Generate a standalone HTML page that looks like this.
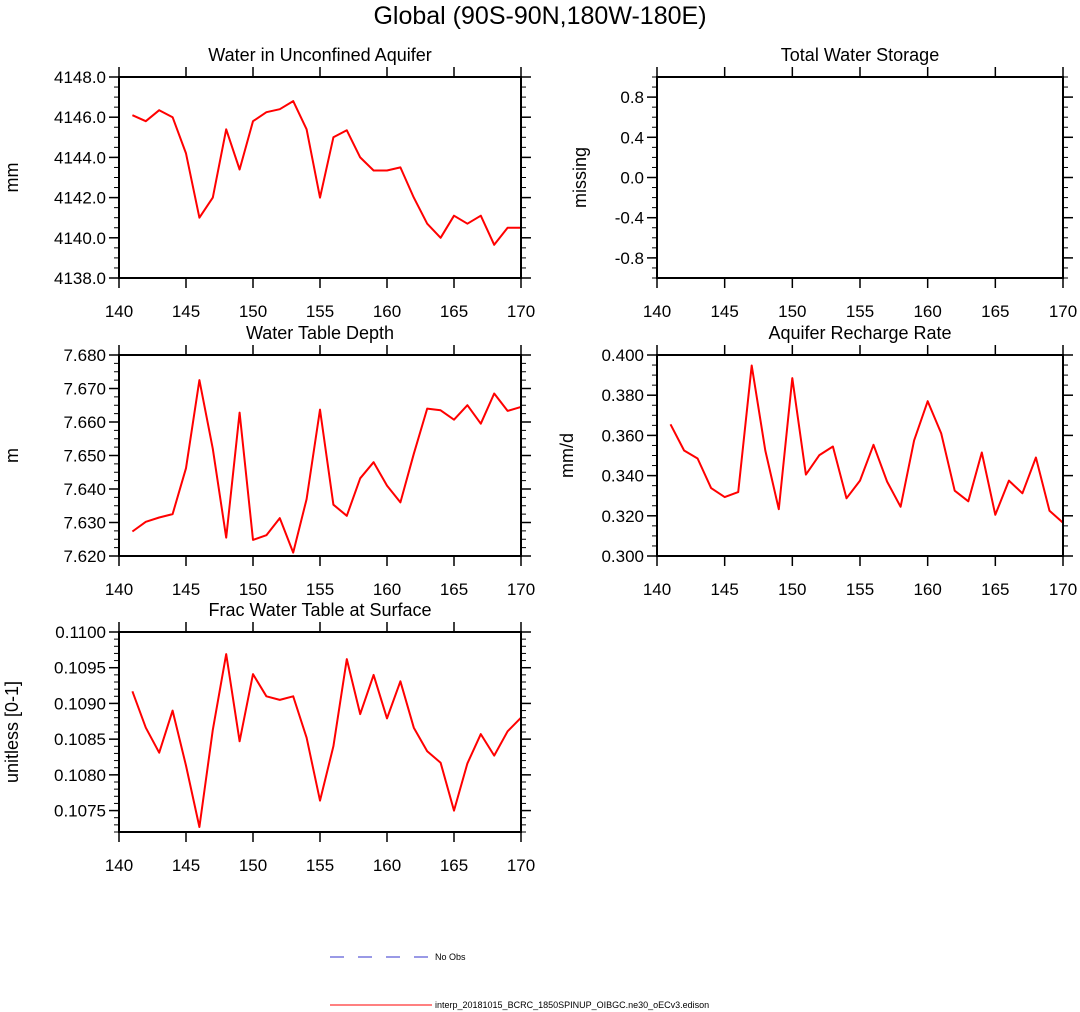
<!DOCTYPE html>
<html><head><meta charset="utf-8"><style>
body{margin:0;background:#fff;}
svg{display:block;font-family:"Liberation Sans",Arial,sans-serif;}
</style></head><body>
<svg id="chart" width="1080" height="1012" viewBox="0 0 1080 1012" xmlns="http://www.w3.org/2000/svg">
<text x="540" y="24" font-size="25" text-anchor="middle">Global (90S-90N,180W-180E)</text>
<g>
<line x1="330" y1="957" x2="432" y2="957" stroke="#3333cc" stroke-width="1" stroke-dasharray="14,14"/>
<text x="435" y="960" font-size="9">No Obs</text>
<line x1="330" y1="1005" x2="432" y2="1005" stroke="red" stroke-width="1"/>
<text x="435" y="1008" font-size="9">interp_20181015_BCRC_1850SPINUP_OIBGC.ne30_oECv3.edison</text>
</g>
</svg>
<script>
const years = [141,142,143,144,145,146,147,148,149,150,151,152,153,154,155,156,157,158,159,160,161,162,163,164,165,166,167,168,169,170];
const xTicks = [140,145,150,155,160,165,170];
const aquiferValues = [4146.1,4145.8,4146.35,4146.0,4144.2,4141.0,4142.0,4145.4,4143.4,4145.8,4146.25,4146.4,4146.8,4145.4,4142.0,4145.0,4145.35,4144.0,4143.35,4143.35,4143.5,4142.0,4140.7,4140.0,4141.1,4140.7,4141.1,4139.65,4140.5,4140.5];
const aquiferTicks = [4138,4140,4142,4144,4146,4148];
const storageValues = [];
const storageTicks = [-0.8,-0.4,0.0,0.4,0.8];
const wtdValues = [7.6273,7.6302,7.6315,7.6325,7.6462,7.6725,7.6520,7.6255,7.6628,7.6248,7.6262,7.6313,7.6210,7.6370,7.6637,7.6353,7.6320,7.6432,7.6480,7.6410,7.6360,7.6505,7.6640,7.6635,7.6607,7.6650,7.6595,7.6685,7.6633,7.6645];
const wtdTicks = [7.620,7.630,7.640,7.650,7.660,7.670,7.680];
const rechargeValues = [0.3655,0.3525,0.3485,0.3338,0.3293,0.3318,0.3948,0.3525,0.3233,0.3885,0.3405,0.3502,0.3545,0.3287,0.3375,0.3553,0.3370,0.3245,0.3575,0.3770,0.3610,0.3325,0.3272,0.3515,0.3205,0.3375,0.3312,0.3490,0.3225,0.3165];
const rechargeTicks = [0.300,0.320,0.340,0.360,0.380,0.400];
const fracValues = [0.10917,0.10866,0.10831,0.10890,0.10813,0.10727,0.10863,0.10969,0.10847,0.10941,0.10910,0.10905,0.10910,0.10852,0.10764,0.10840,0.10962,0.10885,0.10940,0.10879,0.10931,0.10866,0.10833,0.10817,0.10750,0.10816,0.10857,0.10827,0.10861,0.10880];
const fracTicks = [0.1075,0.1080,0.1085,0.1090,0.1095,0.1100];

const NS='http://www.w3.org/2000/svg';
const svg=document.getElementById('chart');
function mk(tag,attrs,parent){const e=document.createElementNS(NS,tag);for(const k in attrs)e.setAttribute(k,attrs[k]);(parent||svg).appendChild(e);return e;}

function panel(o){
  const g=mk('g',{});
  
  
  const xs=v=>o.x0+(v-140)/(170-140)*(o.x1-o.x0);
  const ys=v=>o.y1-(v-o.ymin)/(o.ymax-o.ymin)*(o.y1-o.y0);
  // minor y ticks
  for(let v=o.ymin;v<=o.ymax+1e-9;v+=o.minor){
    const y=ys(v);
    mk('line',{x1:o.x0-5,y1:y,x2:o.x0,y2:y,stroke:'#000','stroke-width':1},g);
    mk('line',{x1:o.x1,y1:y,x2:o.x1+5,y2:y,stroke:'#000','stroke-width':1},g);
  }
  o.yt.forEach(v=>{
    const y=ys(v);
    mk('line',{x1:o.x0-10,y1:y,x2:o.x0,y2:y,stroke:'#000','stroke-width':1.5},g);
    mk('line',{x1:o.x1,y1:y,x2:o.x1+10,y2:y,stroke:'#000','stroke-width':1.5},g);
    const t=mk('text',{x:o.x0-13,y:y+6,'font-size':17,'text-anchor':'end'},g);
    t.textContent=v.toFixed(o.dec);
    
    
  });
  xTicks.forEach(v=>{
    const x=xs(v);
    mk('line',{x1:x,y1:o.y0-10,x2:x,y2:o.y0,stroke:'#000','stroke-width':1.5},g);
    mk('line',{x1:x,y1:o.y1,x2:x,y2:o.y1+10,stroke:'#000','stroke-width':1.5},g);
    const t=mk('text',{x:x,y:o.y1+39,'font-size':17,'text-anchor':'middle'},g);
    t.textContent=v;
    
    
  });
  if(o.vals.length){
    const pts=o.vals.map((v,i)=>xs(years[i]).toFixed(1)+','+ys(v).toFixed(1)).join(' ');
    const pl=mk('polyline',{points:pts,fill:'none',stroke:'red','stroke-width':2,'stroke-linejoin':'round'},g);
    
    
  }
  const r=mk('rect',{x:o.x0,y:o.y0,width:o.x1-o.x0,height:o.y1-o.y0,fill:'none',stroke:'#000','stroke-width':2},g);
  
  
  const tt=mk('text',{x:(o.x0+o.x1)/2,y:o.y0-16,'font-size':18,'text-anchor':'middle'},g);
  tt.textContent=o.title;
  
  
  const yl=mk('text',{x:0,y:0,'font-size':18,'text-anchor':'middle',transform:`translate(${o.ylx},${(o.y0+o.y1)/2}) rotate(-90)`},g);
  yl.textContent=o.ylabel;
  
  
}
panel({name:'panel-aquifer',x0:119,x1:521,y0:77,y1:278,ymin:4138,ymax:4148,yt:aquiferTicks,minor:0.5,dec:1,vals:aquiferValues,title:'Water in Unconfined Aquifer',ylabel:'mm',ylx:18});
panel({name:'panel-storage',x0:657,x1:1063,y0:77,y1:278,ymin:-1,ymax:1,yt:storageTicks,minor:0.1,dec:1,vals:storageValues,title:'Total Water Storage',ylabel:'missing',ylx:586});
panel({name:'panel-wtd',x0:119,x1:521,y0:355,y1:556,ymin:7.62,ymax:7.68,yt:wtdTicks,minor:0.0025,dec:3,vals:wtdValues,title:'Water Table Depth',ylabel:'m',ylx:18});
panel({name:'panel-recharge',x0:657,x1:1063,y0:355,y1:556,ymin:0.3,ymax:0.4,yt:rechargeTicks,minor:0.005,dec:3,vals:rechargeValues,title:'Aquifer Recharge Rate',ylabel:'mm/d',ylx:573});
panel({name:'panel-frac',x0:119,x1:521,y0:632,y1:832,ymin:0.1072,ymax:0.1100,yt:fracTicks,minor:0.0001,dec:4,vals:fracValues,title:'Frac Water Table at Surface',ylabel:'unitless [0-1]',ylx:18});
</script>
</body></html>
